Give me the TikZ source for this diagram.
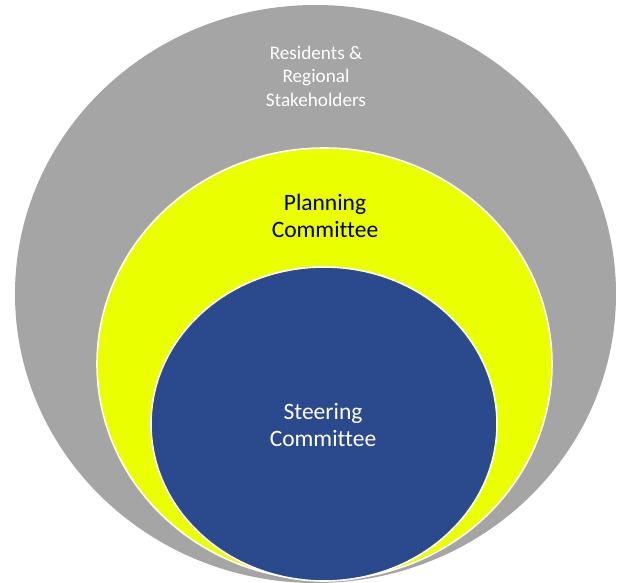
\documentclass[tikz,border=0pt]{standalone}
\usepackage{fontspec}
\setmainfont{Carlito}[RawFeature=-liga]
\usetikzlibrary{shapes.geometric}
\definecolor{ringgray}{RGB}{165,165,165}
\definecolor{ringyellow}{RGB}{234,255,0}
\definecolor{ringblue}{RGB}{43,74,141}
\tikzset{
  ring/.style={ellipse, draw=white, line width=1.6pt, inner sep=0pt},
  smalltext/.style={align=center, font=\fontsize{19.2}{23.5}\selectfont},
  bigtext/.style={align=center, font=\fontsize{23.5}{27}\selectfont}
}
\begin{document}
\begin{tikzpicture}[x=1pt,y=-1pt]
\useasboundingbox (0,0) rectangle (625,583);
\node[ring, fill=ringgray, draw=none, minimum width=601pt, minimum height=578pt] (outer) at (315.5,294) {};
\node[ring, fill=ringyellow, minimum width=455pt, minimum height=432pt] (middle) at (324.5,364) {};
\node[ring, fill=ringblue, minimum width=346pt, minimum height=314pt] (inner) at (324,424) {};
\node[smalltext, text=white] (t1) at (316,76) {Residents \&\\Regional\\Stakeholders};
\node[bigtext, text=black] (t2) at (325,216) {Planning\\Committee};
\node[bigtext, text=white] (t3) at (323,425) {Steering\\Committee};
\end{tikzpicture}
\end{document}
